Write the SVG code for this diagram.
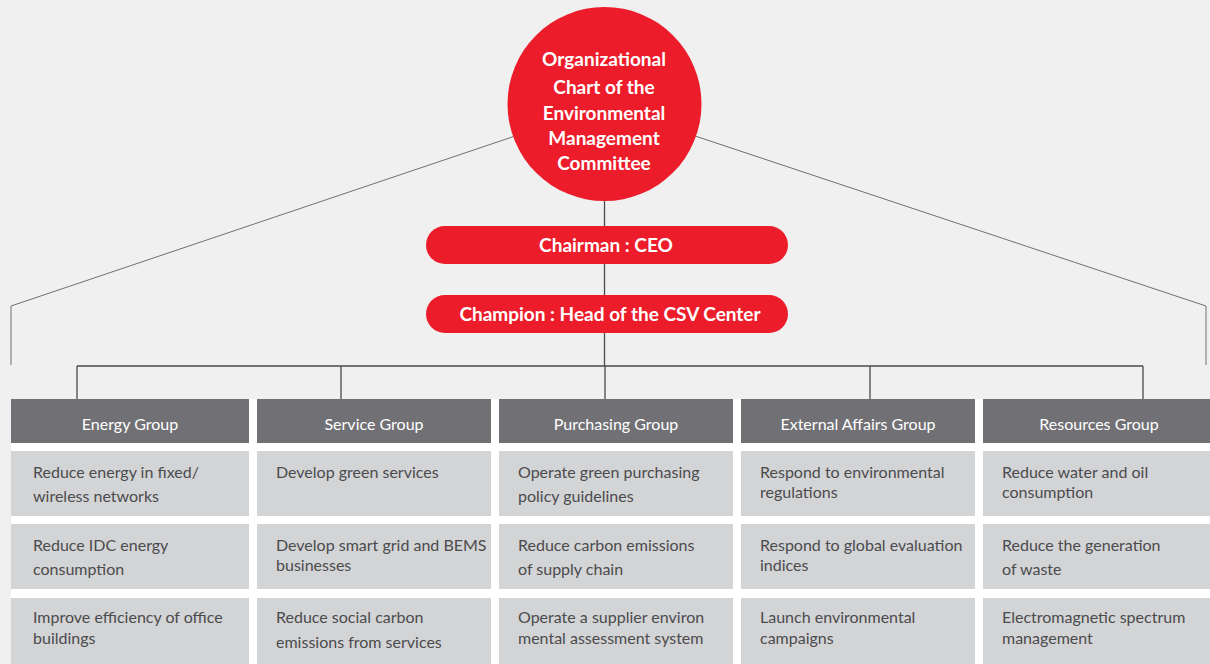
<svg xmlns="http://www.w3.org/2000/svg" width="1210" height="664" viewBox="0 0 1210 664">
<style>
.bg{fill:#eff0ef}
.wh{fill:#ffffff}
.hdr{fill:#717175}
.cell{fill:#d3d4d6}
.red{fill:#ed1c2a}
.conn{stroke:#4a4a4a;fill:none;stroke-width:1.3}
.thin{stroke:#707070;fill:none;stroke-width:1}
.ht{font-family:Lato,"Liberation Sans",sans-serif;font-size:16px;fill:#ffffff;text-anchor:middle}
.ct{font-family:Lato,"Liberation Sans",sans-serif;font-size:16px;fill:#4b4b4d}
.rt{font-family:Lato,"Liberation Sans",sans-serif;font-weight:bold;font-size:19px;fill:#ffffff;text-anchor:middle}
</style>
<rect class="bg" x="0" y="0" width="1210" height="664"/>
<rect class="wh" x="11" y="399" width="1199" height="265"/>
<g id="connectors">
<polyline class="thin" points="530,131 11,306 11,365"/>
<polyline class="thin" points="680,131 1206,306 1206,365"/>
<line class="conn" x1="604.5" y1="150" x2="604.5" y2="366"/>
<line class="conn" x1="77" y1="366" x2="1143" y2="366"/>
<line class="conn" x1="77" y1="366" x2="77" y2="399"/>
<line class="conn" x1="341" y1="366" x2="341" y2="399"/>
<line class="conn" x1="605" y1="366" x2="605" y2="399"/>
<line class="conn" x1="870" y1="366" x2="870" y2="399"/>
<line class="conn" x1="1143" y1="366" x2="1143" y2="399"/>
</g>
<g id="committee">
<circle class="red" cx="604.5" cy="104" r="97"/>
<text class="rt" x="604" y="66">Organizational</text>
<text class="rt" x="604" y="94">Chart of the</text>
<text class="rt" x="604" y="120">Environmental</text>
<text class="rt" x="604" y="145">Management</text>
<text class="rt" x="604" y="170">Committee</text>
</g>
<g id="chairman">
<rect class="red" x="426" y="226" width="362" height="38" rx="19"/>
<text class="rt" x="606" y="252">Chairman : CEO</text>
</g>
<g id="champion">
<rect class="red" x="426" y="295" width="362" height="38" rx="19"/>
<text class="rt" x="610" y="321">Champion : Head of the CSV Center</text>
</g>
<g id="energy">
<rect class="hdr" x="11" y="399" width="238" height="44"/>
<text class="ht" x="130" y="430">Energy Group</text>
<rect class="cell" x="11" y="451" width="238" height="65"/>
<text class="ct" x="33" y="478">Reduce energy in fixed/</text>
<text class="ct" x="33" y="502">wireless networks</text>
<rect class="cell" x="11" y="524" width="238" height="65"/>
<text class="ct" x="33" y="551">Reduce IDC energy</text>
<text class="ct" x="33" y="575">consumption</text>
<rect class="cell" x="11" y="598" width="238" height="66"/>
<text class="ct" x="33" y="623">Improve efficiency of office</text>
<text class="ct" x="33" y="644">buildings</text>
</g>
<g id="service">
<rect class="hdr" x="257" y="399" width="234" height="44"/>
<text class="ht" x="374" y="430">Service Group</text>
<rect class="cell" x="257" y="451" width="234" height="65"/>
<text class="ct" x="276" y="478">Develop green services</text>
<rect class="cell" x="257" y="524" width="234" height="65"/>
<text class="ct" x="276" y="551">Develop smart grid and BEMS</text>
<text class="ct" x="276" y="571">businesses</text>
<rect class="cell" x="257" y="598" width="234" height="66"/>
<text class="ct" x="276" y="623">Reduce social carbon</text>
<text class="ct" x="276" y="648">emissions from services</text>
</g>
<g id="purchasing">
<rect class="hdr" x="499" y="399" width="234" height="44"/>
<text class="ht" x="616" y="430">Purchasing Group</text>
<rect class="cell" x="499" y="451" width="234" height="65"/>
<text class="ct" x="518" y="478">Operate green purchasing</text>
<text class="ct" x="518" y="502">policy guidelines</text>
<rect class="cell" x="499" y="524" width="234" height="65"/>
<text class="ct" x="518" y="551">Reduce carbon emissions</text>
<text class="ct" x="518" y="575">of supply chain</text>
<rect class="cell" x="499" y="598" width="234" height="66"/>
<text class="ct" x="518" y="623">Operate a supplier environ</text>
<text class="ct" x="518" y="644">mental assessment system</text>
</g>
<g id="external">
<rect class="hdr" x="741" y="399" width="234" height="44"/>
<text class="ht" x="858" y="430">External Affairs Group</text>
<rect class="cell" x="741" y="451" width="234" height="65"/>
<text class="ct" x="760" y="478">Respond to environmental</text>
<text class="ct" x="760" y="498">regulations</text>
<rect class="cell" x="741" y="524" width="234" height="65"/>
<text class="ct" x="760" y="551">Respond to global evaluation</text>
<text class="ct" x="760" y="571">indices</text>
<rect class="cell" x="741" y="598" width="234" height="66"/>
<text class="ct" x="760" y="623">Launch environmental</text>
<text class="ct" x="760" y="644">campaigns</text>
</g>
<g id="resources">
<rect class="hdr" x="983" y="399" width="227" height="44"/>
<text class="ht" x="1099" y="430">Resources Group</text>
<rect class="cell" x="983" y="451" width="227" height="65"/>
<text class="ct" x="1002" y="478">Reduce water and oil</text>
<text class="ct" x="1002" y="498">consumption</text>
<rect class="cell" x="983" y="524" width="227" height="65"/>
<text class="ct" x="1002" y="551">Reduce the generation</text>
<text class="ct" x="1002" y="575">of waste</text>
<rect class="cell" x="983" y="598" width="227" height="66"/>
<text class="ct" x="1002" y="623">Electromagnetic spectrum</text>
<text class="ct" x="1002" y="644">management</text>
</g>
</svg>
